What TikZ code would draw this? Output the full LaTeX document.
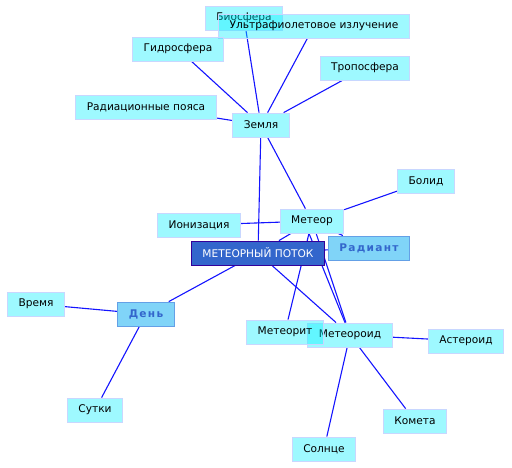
\documentclass[tikz,border=0pt]{standalone}
\usepackage{fontspec}
\setmainfont{DejaVu Sans}
\newfontfamily\spacedfont[LetterSpace=12.0]{DejaVu Sans}
\usetikzlibrary{backgrounds}

\definecolor{boxfill}{RGB}{0,240,255}
\definecolor{boxline}{RGB}{200,215,255}
\definecolor{streamfill}{RGB}{51,102,204}
\definecolor{streamline}{RGB}{51,0,153}
\definecolor{hubfill}{RGB}{128,212,248}
\definecolor{hubline}{RGB}{100,160,230}
\definecolor{hubtext}{RGB}{51,102,204}
\definecolor{linkcol}{RGB}{20,20,255}

\tikzset{
  concept/.style={draw=boxline, line width=0.8pt, fill=boxfill, fill opacity=0.38,
    text opacity=1, minimum height=24pt, inner xsep=11pt, font=\fontsize{10.6}{12}\selectfont},
  hub/.style={draw=hubline, line width=0.8pt, fill=hubfill, text=hubtext,
    minimum height=24pt, inner xsep=11pt, font=\fontsize{10.6}{12}\selectfont\spacedfont\bfseries},
  main/.style={draw=streamline, line width=0.8pt, fill=streamfill, text=white,
    minimum height=24pt, inner xsep=11pt, font=\fontsize{10.6}{12}\selectfont},
  link/.style={draw=linkcol, line width=1.1pt}
}

\begin{document}
\begin{tikzpicture}[x=1pt, y=-1pt]

		% Canvas (pixel grid of the reference)
		\useasboundingbox (0,0) rectangle (512,468);

		% 1. Central topic and the two hubs
		\node[main] (stream) at (258,253) {МЕТЕОРНЫЙ ПОТОК};
		\node[hub] (radiant) at (369,248) {Радиант};
		\node[hub] (den) at (146,314) {День};

		% 2. Earth and its neighbours
		\node[concept] (bio) at (244,18) {Биосфера};
		\node[concept] (uv) at (314,26) {Ультрафиолетовое излучение};
		\node[concept] (hydro) at (178,49) {Гидросфера};
		\node[concept] (tropo) at (365,68) {Тропосфера};
		\node[concept] (belts) at (146,107) {Радиационные пояса};
		\node[concept] (earth) at (261,125) {Земля};

		% 3. Meteor group
		\node[concept] (bolid) at (426,181) {Болид};
		\node[concept] (ion) at (199,225) {Ионизация};
		\node[concept] (meteor) at (312,221) {Метеор};
		\node[concept] (meteoroid) at (350,335) {Метеороид};
		\node[concept] (meteorite) at (285,332) {Метеорит};
		\node[concept] (asteroid) at (466,341) {Астероид};
		\node[concept] (comet) at (415,421) {Комета};
		\node[concept] (sun) at (324,449) {Солнце};

		% 4. Time group
		\node[concept] (vremya) at (36,304) {Время};
		\node[concept] (sutki) at (95,410) {Сутки};

		% 5. Links, kept behind the boxes
		\begin{scope}[on background layer]
			\foreach \a/\b in {earth/bio, earth/uv, earth/hydro, earth/tropo, earth/belts,
			                   earth/stream, earth/meteor, meteor/bolid, meteor/ion,
			                   meteor/stream, meteor/radiant, meteor/meteorite,
			                   meteor/meteoroid, stream/meteoroid, stream/den,
			                   stream/radiant, den/vremya, den/sutki,
			                   meteoroid/asteroid, meteoroid/comet, meteoroid/sun} {
				\draw[link] (\a) -- (\b);
			}
			\draw[link] ([xshift=-3pt]meteor.south) -- ([xshift=-5pt]meteoroid.north);
		\end{scope}

	\end{tikzpicture}
\end{document}
